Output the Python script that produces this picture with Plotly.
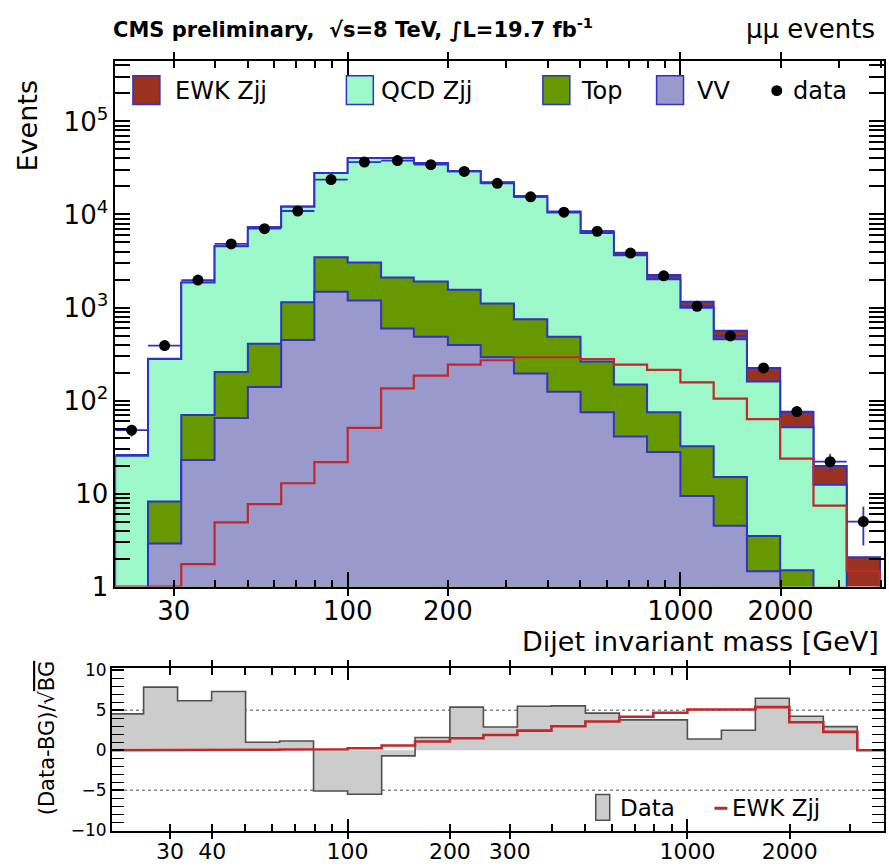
import numpy as np
import plotly.graph_objects as go

# ---------------- data ----------------
edges = [20, 25.1, 31.6, 39.8, 50.1, 63.1, 79.4, 100, 126, 158, 200, 251, 316,
         398, 501, 631, 794, 1000, 1259, 1585, 1995, 2512, 3162, 3981]
vv = [0.3, 2.9, 23, 65, 140, 447, 1480, 1190, 594, 485, 396, 292, 195, 124,
      75, 41, 28, 9.4, 4.5, 1.46, 0.6, 0.3, 0.1]
top = [0.2, 5.3, 47, 138, 268, 693, 1980, 1850, 1506, 1415, 1154, 812, 552,
       361, 188, 108, 47, 22.9, 10.6, 2.04, 0.9, 0.3, 0.1]
qcd = [25, 272, 1790, 4360, 6860, 11000, 24400, 37500, 38400, 33600, 27600,
       20800, 14800, 10000, 6060, 3490, 1940, 961, 441, 157, 50, 11.8, 0.4]
ewk = [0.4, 0.7, 1.74, 4.9, 7.7, 12.9, 21.8, 50.7, 135, 185, 243, 271, 292,
       292, 278, 243, 214, 157, 105, 63, 23.7, 7.4, 1.46]
data = [48, 390, 1970, 4830, 7030, 10900, 23700, 36600, 38000, 34300, 29000,
        21600, 15500, 10600, 6600, 3850, 2190, 1030, 495, 224, 76, 22, 5]
ratio_data = [4.55, 7.9, 6.2, 7.35, 1.0, 1.15, -5.1, -5.5, -0.7, 1.6, 5.4, 2.9,
              5.5, 5.55, 4.65, 3.8, 3.8, 1.4, 2.5, 6.5, 4.25, 2.95, 0.0]
ratio_ewk = [0.0, 0.02, 0.04, 0.06, 0.08, 0.1, 0.13, 0.25, 0.6, 1.1, 1.5, 1.9,
             2.45, 3.0, 3.6, 4.2, 4.7, 5.1, 5.1, 5.4, 3.5, 2.3, 0.0]

x_short_ticks = [30, 40, 50, 60, 70, 80, 90, 200, 300, 400, 500, 600, 700, 800,
                 900, 2000, 3000, 4000]
x_long_ticks = [100, 1000]
main_x_labels = [30, 100, 200, 1000, 2000]
ratio_x_labels = [30, 40, 100, 200, 300, 1000, 2000]
y_ticks = [1, 10, 100, 1000, 10000, 100000]
y_ticktext = ["1", "10", "10<sup>2</sup>", "10<sup>3</sup>", "10<sup>4</sup>",
              "10<sup>5</sup>"]
y_minor = [m * d for d in [1, 10, 100, 1000, 10000, 100000] for m in range(2, 10)]
ratio_y_ticks = [-10, -5, 0, 5, 10]
ratio_grid = [-5, 5]

legend_names = ["EWK Zjj", "QCD Zjj", "Top", "VV"]

# ---------------- styles ----------------
C_EWK = "#993320"
C_QCD = "#9cf7c9"
C_TOP = "#669900"
C_VV = "#9999cc"
C_BLUE = "#3131c4"
C_RED = "#c0282a"
FONT = "DejaVu Sans"

W, H = 889, 867
ML, MR, MT, MB = 112, 3, 61, 27
PW, PH = W - ML - MR, H - MT - MB


def px2x(px):
    return (px - ML) / PW


def px2y(py):
    return (H - MB - py) / PH


FLOOR = 0.05


def hist_path(vals, floor, close=True):
    xs, ys = ([edges[0]], [floor]) if close else ([], [])
    for i, v in enumerate(vals):
        xs += [edges[i], edges[i + 1]]
        ys += [v, v]
    if close:
        xs.append(edges[-1])
        ys.append(floor)
    return xs, ys


c_vv = np.array(vv)
c_top = c_vv + np.array(top)
c_qcd = c_top + np.array(qcd)
c_ewk = c_qcd + np.array(ewk)

fig = go.Figure()

for cum, col in [(c_ewk, C_EWK), (c_qcd, C_QCD), (c_top, C_TOP), (c_vv, C_VV)]:
    xs, ys = hist_path(list(cum), FLOOR)
    fig.add_trace(go.Scatter(x=xs, y=ys, mode="lines", fill="toself",
                             fillcolor=col, line=dict(color=C_BLUE, width=2),
                             xaxis="x", yaxis="y", hoverinfo="skip"))

xs, ys = hist_path(list(np.maximum(ewk, 1.0)), FLOOR)
xs, ys = xs[1:], ys[1:]
fig.add_trace(go.Scatter(x=xs, y=ys, mode="lines",
                         line=dict(color=C_RED, width=2.2),
                         xaxis="x", yaxis="y"))

centers = [np.sqrt(edges[i] * edges[i + 1]) for i in range(len(data))]
fig.add_trace(go.Scatter(
    x=centers, y=data, mode="markers",
    marker=dict(color="black", size=11),
    error_y=dict(type="data", array=list(np.sqrt(data)), color=C_BLUE,
                 thickness=1.8, width=0),
    error_x=dict(type="data", array=[edges[i + 1] - centers[i] for i in range(len(data))],
                 arrayminus=[centers[i] - edges[i] for i in range(len(data))],
                 color=C_BLUE, thickness=1.8, width=0),
    xaxis="x", yaxis="y"))

# invisible helper traces for tick-only overlay axes
for xa, ya, yv in [("x3", "y", 10), ("x5", "y", 10), ("x", "y3", 10),
                   ("x4", "y2", 0), ("x6", "y2", 0), ("x2", "y4", 0)]:
    fig.add_trace(go.Scatter(x=[100], y=[yv], mode="markers",
                             marker=dict(opacity=0), xaxis=xa, yaxis=ya,
                             hoverinfo="skip"))

# ratio panel
xs, ys = hist_path(ratio_data, 0.0)
fig.add_trace(go.Scatter(x=xs, y=ys, mode="lines", fill="toself",
                         fillcolor="#cccccc", line=dict(color="#505050", width=1.6),
                         xaxis="x2", yaxis="y2"))
xs, ys = hist_path(ratio_ewk, 0.0)
fig.add_trace(go.Scatter(x=xs[1:], y=ys[1:], mode="lines",
                         line=dict(color=C_RED, width=2.6),
                         xaxis="x2", yaxis="y2"))

axis_common = dict(showline=True, linewidth=2, linecolor="black",
                   mirror="allticks", ticks="inside", tickcolor="black",
                   tickwidth=1.5, showgrid=False, zeroline=False)
overlay_common = dict(ticks="inside", tickwidth=1.5, tickcolor="black",
                      showticklabels=False, showline=False, showgrid=False,
                      zeroline=False)

MAIN_XR = [1.302, 3.612]
RATIO_XR = [1.3067, 3.5786]


def x_overlay(base, yanchor, rng, side, longlen):
    return dict(type="log", range=rng, overlaying=base, anchor=yanchor, side=side,
                tickvals=x_long_ticks, ticklen=longlen,
                minor=dict(tickvals=x_short_ticks, ticklen=7, ticks="inside",
                           tickcolor="black", tickwidth=1.5),
                **overlay_common)


fig.update_layout(
    width=W, height=H, margin=dict(l=ML, r=MR, t=MT, b=MB),
    paper_bgcolor="white", plot_bgcolor="white", showlegend=False,
    font=dict(family=FONT, color="black"),
    xaxis=dict(type="log", range=MAIN_XR, domain=[px2x(115.5), 1],
               anchor="y", tickvals=main_x_labels,
               ticktext=[str(v) for v in main_x_labels],
               ticklen=7, tickfont=dict(size=26), **axis_common),
    xaxis3=x_overlay("x", "y", MAIN_XR, "bottom", 15),
    xaxis5=x_overlay("x", "y", MAIN_XR, "top", 15),
    yaxis=dict(type="log", range=[0, 5.65], domain=[px2y(592.7), 1], anchor="x",
               tickvals=y_ticks, ticktext=y_ticktext, ticklen=15,
               tickfont=dict(size=26),
               minor=dict(tickvals=y_minor, ticklen=7, ticks="inside",
                          tickcolor="black", tickwidth=1.5),
               **axis_common),
    yaxis3=dict(type="log", range=[0, 5.65], overlaying="y", anchor="x",
                side="right", tickvals=y_ticks, ticklen=15,
                minor=dict(tickvals=y_minor, ticklen=7, ticks="inside",
                           tickcolor="black", tickwidth=1.5),
                **overlay_common),
    xaxis2=dict(type="log", range=RATIO_XR, domain=[0, 1],
                anchor="y2", tickvals=ratio_x_labels,
                ticktext=[str(v) for v in ratio_x_labels],
                ticklen=6, tickfont=dict(size=22), **axis_common),
    xaxis4=x_overlay("x2", "y2", RATIO_XR, "bottom", 12),
    xaxis6=x_overlay("x2", "y2", RATIO_XR, "top", 12),
    yaxis2=dict(range=[-10.1, 10.3], domain=[0, px2y(675)], anchor="x2",
                tickvals=ratio_y_ticks, ticklen=12, tickfont=dict(size=17),
                minor=dict(dtick=1, ticklen=6, ticks="inside", tickcolor="black",
                           tickwidth=1.2),
                **axis_common),
    yaxis4=dict(range=[-10.1, 10.3], overlaying="y2", anchor="x2", side="right",
                tickvals=ratio_y_ticks, ticklen=12,
                minor=dict(dtick=1, ticklen=6, ticks="inside", tickcolor="black",
                           tickwidth=1.2),
                **overlay_common),
)

shapes = []
for g in ratio_grid:
    shapes.append(dict(type="line", xref="x2 domain", yref="y2", x0=0, x1=1,
                       y0=g, y1=g, line=dict(color="#888888", width=1.5, dash="dot"),
                       layer="below"))

# main legend (manual)
box_left = [133, 347, 544, 658]
text_left = [173, 380, 580, 697]
box_cols = [C_EWK, C_QCD, C_TOP, C_VV]
annotations = []
for bl, tl, col, name in zip(box_left, text_left, box_cols, legend_names):
    shapes.append(dict(type="rect", xref="paper", yref="paper",
                       x0=px2x(bl), x1=px2x(bl + 27), y0=px2y(105), y1=px2y(76),
                       fillcolor=col, line=dict(color=C_BLUE, width=1.5)))
    annotations.append(dict(text=name, xref="paper", yref="paper", x=px2x(tl),
                            y=px2y(91), xanchor="left", yanchor="middle",
                            showarrow=False, font=dict(size=24)))
shapes.append(dict(type="circle", xref="paper", yref="paper",
                   x0=px2x(773), x1=px2x(784), y0=px2y(96.5), y1=px2y(85.5),
                   fillcolor="black", line=dict(color="black", width=0)))
annotations.append(dict(text="data", xref="paper", yref="paper", x=px2x(793),
                        y=px2y(91), xanchor="left", yanchor="middle",
                        showarrow=False, font=dict(size=24)))

# ratio legend
shapes.append(dict(type="rect", xref="paper", yref="paper",
                   x0=px2x(597), x1=px2x(611), y0=px2y(829), y1=px2y(803),
                   fillcolor="#cccccc", line=dict(color="#505050", width=1.5)))
annotations.append(dict(text="Data", xref="paper", yref="paper", x=px2x(619),
                        y=px2y(817), xanchor="left", yanchor="middle",
                        showarrow=False, font=dict(size=23)))
shapes.append(dict(type="line", xref="paper", yref="paper",
                   x0=px2x(716), x1=px2x(729), y0=px2y(817), y1=px2y(817),
                   line=dict(color=C_RED, width=3)))
annotations.append(dict(text="EWK Zjj", xref="paper", yref="paper", x=px2x(732),
                        y=px2y(817), xanchor="left", yanchor="middle",
                        showarrow=False, font=dict(size=23)))

# titles
annotations += [
    dict(text="<b>CMS preliminary,  √s=8 TeV, ∫L=19.7 fb<sup>-1</sup></b>",
         xref="paper", yref="paper", x=px2x(111), y=px2y(28), xanchor="left",
         yanchor="middle", showarrow=False, font=dict(size=21)),
    dict(text="μμ events", xref="paper", yref="paper", x=px2x(879), y=px2y(29),
         xanchor="right", yanchor="middle", showarrow=False, font=dict(size=26)),
    dict(text="Events", xref="paper", yref="paper", x=px2x(27), y=px2y(127),
         xanchor="center", yanchor="middle", textangle=-90, showarrow=False,
         font=dict(size=27)),
    dict(text="Dijet invariant mass [GeV]", xref="paper", yref="paper",
         x=px2x(883), y=px2y(648), xanchor="right", yanchor="middle",
         showarrow=False, font=dict(size=27)),
    dict(text="(Data-BG)/√<span style='text-decoration:overline'>BG</span>",
         xref="paper", yref="paper", x=px2x(47), y=px2y(746), xanchor="center",
         yanchor="middle", textangle=-90, showarrow=False, font=dict(size=21)),
]

fig.update_layout(shapes=shapes, annotations=annotations)
fig.write_html("out.html", config={"displayModeBar": False},
               post_script="document.body.style.margin='0';"
                           "document.body.style.overflow='hidden';")
